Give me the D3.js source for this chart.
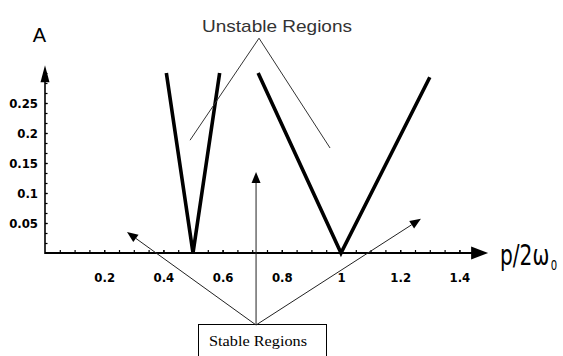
<!DOCTYPE html>
<html>
<head>
<meta charset="utf-8">
<script src="https://cdn.jsdelivr.net/npm/d3@7"></script>
<style>
  html, body { margin: 0; padding: 0; background: #fff; }
  svg { display: block; }
</style>
</head>
<body>
<script>
// Instability tongues of the Mathieu equation: amplitude A vs p/2ω0
const tongue1 = [ { p: 0.41, A: 0.30 }, { p: 0.50, A: 0.0 }, { p: 0.59, A: 0.30 } ];
const tongue2 = [ { p: 0.72, A: 0.30 }, { p: 1.00, A: 0.0 }, { p: 1.30, A: 0.293 } ];

const xTickValues = [0.2, 0.4, 0.6, 0.8, 1.0, 1.2, 1.4];
const xTickLabels = ["0.2", "0.4", "0.6", "0.8", "1", "1.2", "1.4"];
const yTickValues = [0.05, 0.10, 0.15, 0.20, 0.25];
const yTickLabels = ["0.05", "0.1", "0.15", "0.2", "0.25"];

// Annotation anchors in data coordinates
const unstableApex = { p: 0.723, A: 0.358 };
const unstableTargets = [ { p: 0.490, A: 0.188 }, { p: 0.963, A: 0.175 } ];
const stableAnchor = { p: 0.713, A: -0.120 };
const stableTargets = [ { p: 0.277, A: 0.035 }, { p: 0.713, A: 0.135 }, { p: 1.270, A: 0.057 } ];

const W = 563, H = 356;
const x = d3.scaleLinear().domain([0, 1]).range([45, 341]);
const y = d3.scaleLinear().domain([0, 0.3]).range([253, 73]);
const xEnd = 1.497, yEnd = 0.313;

const svg = d3.select("body").append("svg")
  .attr("width", W).attr("height", H)
  .style("background", "#fff");

const tickFont = "'DejaVu Sans Condensed', 'DejaVu Sans', sans-serif";

function styleTickText(g) {
  g.selectAll("text")
    .attr("fill", "#000")
    .style("font-family", tickFont)
    .style("font-weight", "bold")
    .style("font-stretch", "condensed")
    .style("font-size", "13px");
}

// minor ticks
const xMinor = d3.range(1, 29).map(i => i * 0.05);
svg.append("g")
  .attr("transform", `translate(0,${y(0)})`)
  .call(d3.axisBottom(x).tickValues(xMinor).tickSize(-3).tickFormat(""))
  .call(g => g.select(".domain").remove())
  .call(g => g.selectAll("line").attr("stroke", "#000").attr("stroke-width", 1.2));

const yMinor = d3.range(1, 19).map(i => i * 0.05 / 3);
svg.append("g")
  .attr("transform", `translate(${x(0)},0)`)
  .call(d3.axisLeft(y).tickValues(yMinor).tickSize(-2.5).tickFormat(""))
  .call(g => g.select(".domain").remove())
  .call(g => g.selectAll("line").attr("stroke", "#000").attr("stroke-width", 1.2));

// labelled axes
svg.append("g")
  .attr("transform", `translate(0,${y(0)})`)
  .call(d3.axisBottom(x).tickValues(xTickValues).tickSize(-3)
        .tickPadding(20).tickFormat((d, i) => xTickLabels[i]))
  .call(g => g.select(".domain").remove())
  .call(g => g.selectAll("line").attr("stroke", "#000").attr("stroke-width", 1.2))
  .call(styleTickText);

svg.append("g")
  .attr("transform", `translate(${x(0)},0)`)
  .call(d3.axisLeft(y).tickValues(yTickValues).tickSize(-2.5)
        .tickPadding(7).tickFormat((d, i) => yTickLabels[i]))
  .call(g => g.select(".domain").remove())
  .call(g => g.selectAll("line").attr("stroke", "#000").attr("stroke-width", 1.2))
  .call(styleTickText);

// axis lines with arrowheads
svg.append("line")
  .attr("x1", x(0)).attr("x2", x(xEnd) - 10)
  .attr("y1", y(0)).attr("y2", y(0))
  .attr("stroke", "#000").attr("stroke-width", 2.2);
svg.append("path")
  .attr("d", `M${x(xEnd)},${y(0)} L${x(xEnd) - 17},${y(0) - 6.5} L${x(xEnd) - 17},${y(0) + 6.5} Z`)
  .attr("fill", "#000");

svg.append("line")
  .attr("x1", x(0)).attr("x2", x(0))
  .attr("y1", y(0) + 1).attr("y2", y(yEnd) + 10)
  .attr("stroke", "#000").attr("stroke-width", 1.6);
svg.append("path")
  .attr("d", `M${x(0)},${y(yEnd)} L${x(0) - 4.5},${y(yEnd) + 17} L${x(0) + 4.5},${y(yEnd) + 17} Z`)
  .attr("fill", "#000");

// axis titles
svg.append("text")
  .attr("x", 39.5).attr("y", 42)
  .attr("text-anchor", "middle")
  .style("font-family", "'Liberation Sans', Arial, sans-serif")
  .style("font-size", "20px")
  .attr("fill", "#000")
  .text("A");

const xTitle = svg.append("text")
  .attr("transform", "translate(500,265) scale(0.8,1)")
  .style("font-family", "'DejaVu Sans Condensed', 'DejaVu Sans', sans-serif")
  .attr("fill", "#000");
xTitle.append("tspan").style("font-size", "28px").text("p/2ω");
xTitle.append("tspan").attr("dx", 2).attr("dy", 5).style("font-size", "14px").text("0");

// instability boundaries
const line = d3.line().x(d => x(d.p)).y(d => y(d.A));
[tongue1, tongue2].forEach(t => {
  svg.append("path")
    .attr("d", line(t))
    .attr("fill", "none")
    .attr("stroke", "#000")
    .attr("stroke-width", 3.6);
});

// "Unstable Regions" callout
svg.append("text")
  .attr("x", x(unstableApex.p) + 18).attr("y", 32)
  .attr("text-anchor", "middle")
  .attr("textLength", 150).attr("lengthAdjust", "spacingAndGlyphs")
  .style("font-family", "'Liberation Sans', Arial, sans-serif")
  .style("font-size", "17px")
  .attr("fill", "#333")
  .text("Unstable Regions");

unstableTargets.forEach(t => {
  svg.append("line")
    .attr("x1", x(unstableApex.p)).attr("y1", y(unstableApex.A))
    .attr("x2", x(t.p)).attr("y2", y(t.A))
    .attr("stroke", "#333").attr("stroke-width", 1);
});

// "Stable Regions" callout
const bx = x(stableAnchor.p), by = y(stableAnchor.A);
svg.append("rect")
  .attr("x", 198.5).attr("y", by - 0.5)
  .attr("width", 128).attr("height", 40)
  .attr("fill", "#fff")
  .attr("stroke", "#000").attr("stroke-width", 1);
svg.append("text")
  .attr("x", 209).attr("y", 346)
  .attr("textLength", 98).attr("lengthAdjust", "spacingAndGlyphs")
  .style("font-family", "'Liberation Serif', 'Times New Roman', serif")
  .style("font-size", "14.5px")
  .attr("fill", "#000")
  .text("Stable Regions");

stableTargets.forEach(t => {
  const tx = x(t.p), ty = y(t.A);
  const ang = Math.atan2(ty - by, tx - bx);
  const len = 11, half = 4.5;
  const baseX = tx - len * Math.cos(ang), baseY = ty - len * Math.sin(ang);
  svg.append("line")
    .attr("x1", bx).attr("y1", by)
    .attr("x2", baseX).attr("y2", baseY)
    .attr("stroke", "#222").attr("stroke-width", 1);
  const px = -Math.sin(ang) * half, py = Math.cos(ang) * half;
  svg.append("path")
    .attr("d", `M${tx},${ty} L${baseX + px},${baseY + py} L${baseX - px},${baseY - py} Z`)
    .attr("fill", "#000");
});
</script>
</body>
</html>
